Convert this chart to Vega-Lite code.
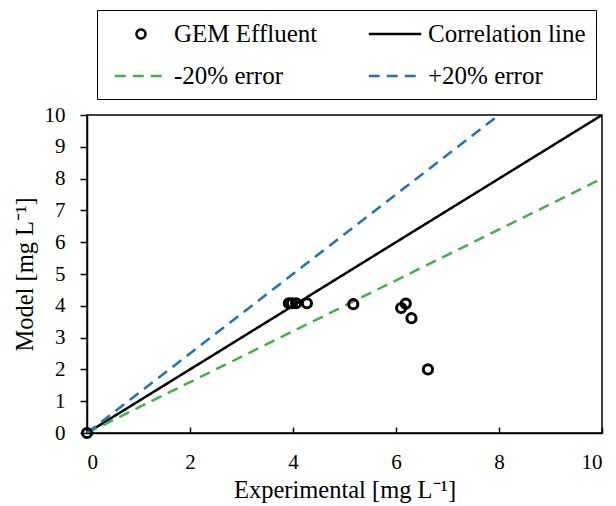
{
  "$schema": "https://vega.github.io/schema/vega-lite/v6.json",
  "width": 515,
  "height": 318,
  "autosize": {"type": "none"},
  "padding": {"left": 87, "top": 115, "right": 14, "bottom": 73},
  "background": "white",
  "config": {
    "font": "Liberation Serif",
    "view": {"stroke": "black", "strokeWidth": 1.5},
    "axis": {
      "grid": false,
      "domainColor": "black",
      "domainWidth": 1.5,
      "tickColor": "black",
      "tickWidth": 1.5,
      "labelColor": "black",
      "labelFont": "Liberation Serif",
      "labelFontSize": 21,
      "titleColor": "black",
      "titleFont": "Liberation Serif",
      "titleFontSize": 24.5,
      "titleFontWeight": "normal"
    }
  },
  "datasets": {
    "measured": [
      {"series": "GEM Effluent", "experimental": 0.0, "model": 0.0},
      {"series": "GEM Effluent", "experimental": 3.92, "model": 4.08},
      {"series": "GEM Effluent", "experimental": 3.98, "model": 4.08},
      {"series": "GEM Effluent", "experimental": 4.06, "model": 4.08},
      {"series": "GEM Effluent", "experimental": 4.27, "model": 4.08},
      {"series": "GEM Effluent", "experimental": 5.17, "model": 4.05},
      {"series": "GEM Effluent", "experimental": 6.1, "model": 3.93},
      {"series": "GEM Effluent", "experimental": 6.19, "model": 4.07},
      {"series": "GEM Effluent", "experimental": 6.3, "model": 3.61},
      {"series": "GEM Effluent", "experimental": 6.62, "model": 2.0}
    ],
    "reference": [
      {"series": "Correlation line", "experimental": 0, "model": 0},
      {"series": "Correlation line", "experimental": 10, "model": 10},
      {"series": "-20% error", "experimental": 0, "model": 0},
      {"series": "-20% error", "experimental": 10, "model": 8},
      {"series": "+20% error", "experimental": 0, "model": 0},
      {"series": "+20% error", "experimental": 8, "model": 10}
    ]
  },
  "encoding": {
    "x": {
      "field": "experimental",
      "type": "quantitative",
      "scale": {"domain": [0, 10], "nice": false},
      "axis": {
        "title": "Experimental [mg L⁻¹]",
        "values": [0, 2, 4, 6, 8, 10],
        "tickSize": -6,
        "labelPadding": 24,
        "titlePadding": 6
      }
    },
    "y": {
      "field": "model",
      "type": "quantitative",
      "scale": {"domain": [0, 10], "nice": false},
      "axis": {
        "title": "Model [mg L⁻¹]",
        "values": [0, 1, 2, 3, 4, 5, 6, 7, 8, 9, 10],
        "tickSize": 7,
        "labelPadding": 15,
        "titlePadding": 7
      }
    },
    "color": {
      "field": "series",
      "type": "nominal",
      "scale": {
        "domain": ["GEM Effluent", "-20% error", "Correlation line", "+20% error"],
        "range": ["black", "#3DB54A", "black", "#1E73BE"]
      },
      "legend": {
        "title": null,
        "orient": "none",
        "legendX": 10,
        "legendY": -105,
        "columns": 2,
        "columnPadding": 43,
        "rowPadding": 15,
        "padding": 10,
        "strokeColor": "black",
        "fillColor": "white",
        "symbolType": "stroke",
        "symbolSize": 625,
        "symbolStrokeWidth": 2.5,
        "symbolOpacity": 1,
        "symbolOffset": 20,
        "labelFont": "Liberation Serif",
        "labelFontSize": 25,
        "labelColor": "black",
        "labelOffset": 19,
        "labelLimit": 400,
        "encode": {
          "symbols": {
            "update": {
              "shape": {"signal": "datum.value === 'GEM Effluent' ? 'M -0.36 0 A 0.36 0.36 0 1 1 0.36 0 A 0.36 0.36 0 1 1 -0.36 0 Z' : 'M -2.1 0 L 2.1 0'"},
              "strokeDash": {"signal": "datum.value === '-20% error' || datum.value === '+20% error' ? [11, 7] : [1, 0]"},
              "fill": {"value": "transparent"},
              "opacity": {"value": 1}
            }
          }
        }
      }
    }
  },
  "layer": [
    {
      "data": {"name": "reference"},
      "mark": {"type": "line", "strokeWidth": 2.5, "clip": true},
      "encoding": {
        "strokeDash": {
          "field": "series",
          "type": "nominal",
          "scale": {
            "domain": ["Correlation line", "-20% error", "+20% error"],
            "range": [[1, 0], [11, 7], [11, 7]]
          },
          "legend": null
        }
      }
    },
    {
      "data": {"name": "measured"},
      "mark": {"type": "point", "filled": false, "strokeWidth": 3, "size": 85, "opacity": 1}
    }
  ]
}
